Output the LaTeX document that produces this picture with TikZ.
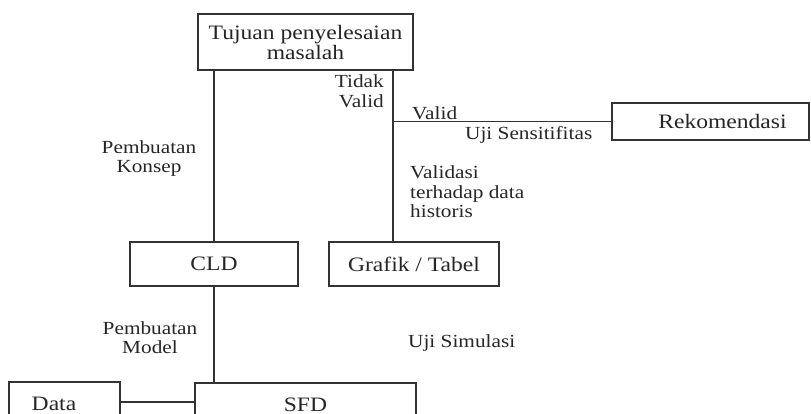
\documentclass[tikz,border=0pt]{standalone}
\usepackage{fontspec}
\setmainfont[FakeStretch=1.15]{Liberation Serif}
\begin{document}
\begin{tikzpicture}[x=1pt,y=-1pt,
  box/.style={draw=black!80,line width=1.2pt,rectangle,inner sep=0pt,align=center,
    font=\fontsize{20.5}{21}\selectfont,text=black!85},
  lbl/.style={inner sep=0pt,font=\fontsize{18.5}{19.5}\selectfont,text=black!85},
  conn/.style={draw=black!80,line width=1.2pt}]
\useasboundingbox (0,0) rectangle (811,414);
\clip (0,0) rectangle (811,414);
\fill[white] (0,0) rectangle (811,414);
\node[box,minimum width=215pt,minimum height=56pt] (top) at (305.5,42) {Tujuan penyelesaian\\[-1pt]masalah};
\node[box,minimum width=197pt,minimum height=37pt] (rek) at (710.5,121.5) {\hspace*{24pt}Rekomendasi};
\node[box,minimum width=168pt,minimum height=44pt] (cld) at (214,264) {CLD};
\node[box,minimum width=170pt,minimum height=44pt] (grafik) at (414,264) {Grafik / Tabel};
\node[box,minimum width=221pt,minimum height=44pt] (sfd) at (305.5,405) {SFD};
\node[box,minimum width=111pt,minimum height=44pt] (data) at (64.5,404) {\hspace*{-21pt}Data};
\coordinate (vr) at (393,0);
\draw[conn] (cld.north |- top.south) -- (cld.north);
\draw[conn] (cld.south) -- (cld.south |- sfd.north);
\draw[conn] (top.south -| vr) -- (grafik.north -| vr);
\draw[conn] (vr |- rek.west) -- (rek.west);
\draw[conn] (data.east |- 0,402) -- (sfd.west |- 0,402);
\node[lbl,align=right,anchor=east] (tv) at (384,91) {Tidak\\Valid};
\node[lbl,anchor=west] (valid) at (412,113) {Valid};
\node[lbl,anchor=west] (ujis) at (465,135) {Uji Sensitifitas};
\node[lbl,align=center] (pk) at (149,158.5) {Pembuatan\\Konsep};
\node[lbl,align=left,anchor=west] (vh) at (410,192) {Validasi\\terhadap data\\historis};
\node[lbl,align=center] (pm) at (150,337.5) {Pembuatan\\Model};
\node[lbl,anchor=west] (usim) at (408,343) {Uji Simulasi};
\end{tikzpicture}
\end{document}
